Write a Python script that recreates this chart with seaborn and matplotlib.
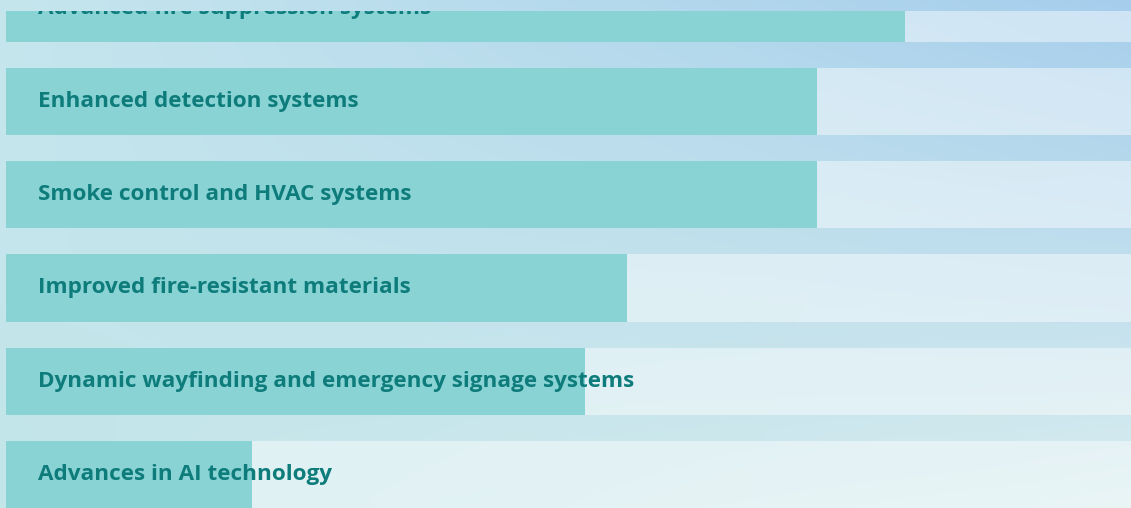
import numpy as np
import pandas as pd
import matplotlib
matplotlib.use("Agg")
import matplotlib.pyplot as plt
import seaborn as sns
from matplotlib.transforms import blended_transform_factory, offset_copy

# Share of respondents (%) naming each factor
categories = [
    "Advanced fire suppression systems",
    "Enhanced detection systems",
    "Smoke control and HVAC systems",
    "Improved fire-resistant materials",
    "Dynamic wayfinding and emergency signage systems",
    "Advances in AI technology",
]
values = [64.0, 57.7, 57.7, 44.2, 41.2, 17.5]
track_max = 100.0

df = pd.DataFrame({"factor": categories, "share": values,
                   "track": [track_max] * len(categories)})

sns.set_theme(style="white")
plt.rcParams["font.family"] = ["Open Sans", "DejaVu Sans"]

W, H = 1131, 508
fig = plt.figure(figsize=(W / 100, H / 100), dpi=100)

# Soft bilinear gradient behind everything
bg = fig.add_axes([0, 0, 1, 1], zorder=0)
bg.set_axis_off()
tl = np.array([0xC6, 0xE6, 0xEE]) / 255
tr = np.array([0xA6, 0xCE, 0xEC]) / 255
bl = np.array([0xC2, 0xE5, 0xE9]) / 255
br = np.array([0xD8, 0xED, 0xEF]) / 255
u = np.linspace(0, 1, 400)[None, :, None]
v = np.linspace(0, 1, 200)[:, None, None]
grad = (1 - v) * ((1 - u) * tl + u * tr) + v * ((1 - u) * bl + u * br)
bg.imshow(grad, aspect="auto", extent=[0, 1, 0, 1], interpolation="bicubic")
bg.set_xlim(0, 1)
bg.set_ylim(0, 1)

# Main bar area
left_px, top_px = 6, 11
ax = fig.add_axes([left_px / W, 0, 1 - left_px / W, (H - top_px) / H], zorder=1)
ax.patch.set_alpha(0)

bar_h = 0.72
sns.barplot(data=df, y="factor", x="track", orient="h", width=bar_h,
            color="white", alpha=0.45, saturation=1, ax=ax, zorder=1)
sns.barplot(data=df, y="factor", x="share", orient="h", width=bar_h,
            color="#8AD3D5", saturation=1, ax=ax, zorder=2)

px_per_unit = 899 / values[0]
ax.set_xlim(0, (W - left_px) / px_per_unit)
pitch = 93.25
c0 = 8.25
ax.set_ylim((H - c0) / pitch, (top_px - c0) / pitch)

for p in ax.patches:
    p.set_edgecolor("none")
    p.set_linewidth(0)

trans = offset_copy(blended_transform_factory(ax.transAxes, ax.transData),
                    fig=fig, x=(38 - left_px) * 72 / 100, y=0, units="points")
for i, name in enumerate(categories):
    ax.text(0, i, name, transform=trans, ha="left", va="center",
            fontsize=16.2, fontweight="bold", color="#0E7C7B",
            zorder=3, clip_on=True)

ax.set_axis_off()
fig.savefig("out.png", dpi=100)
